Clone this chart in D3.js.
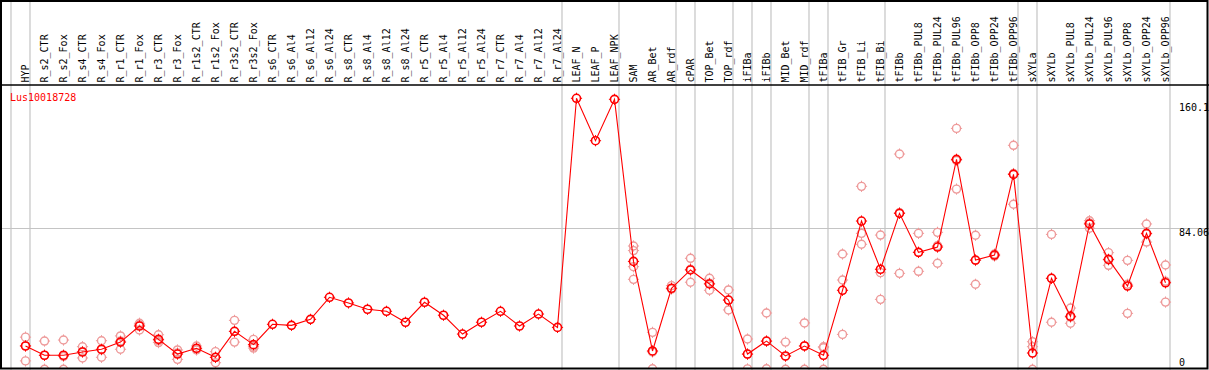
<!DOCTYPE html>
<html>
<head>
<meta charset="utf-8">
<script src="https://cdn.jsdelivr.net/npm/d3@7"></script>
<style>
  html, body { margin: 0; padding: 0; background: #fff; }
  svg { display: block; }
  text { font-family: "DejaVu Sans Mono", "Liberation Mono", monospace; font-size: 10px; }
</style>
</head>
<body>
<svg id="chart" width="1209" height="370"></svg>
<script>
const geneName = "Lus10018728";

const categories = [
  "HYP","R_s2_CTR","R_s2_Fox","R_s4_CTR","R_s4_Fox","R_r1_CTR","R_r1_Fox","R_r3_CTR","R_r3_Fox",
  "R_r1s2_CTR","R_r1s2_Fox","R_r3s2_CTR","R_r3s2_Fox","R_s6_CTR","R_s6_Al4","R_s6_Al12","R_s6_Al24",
  "R_s8_CTR","R_s8_Al4","R_s8_Al12","R_s8_Al24","R_r5_CTR","R_r5_Al4","R_r5_Al12","R_r5_Al24",
  "R_r7_CTR","R_r7_Al4","R_r7_Al12","R_r7_Al24","LEAF_N","LEAF_P","LEAF_NPK","SAM","AR_Bet","AR_rdf",
  "cPAR","TOP_Bet","TOP_rdf","iFIBa","iFIBb","MID_Bet","MID_rdf","tFIBa","tFIB_Gr","tFIB_Li","tFIB_Bi",
  "tFIBb","tFIBb_PUL8","tFIBb_PUL24","tFIBb_PUL96","tFIBb_OPP8","tFIBb_OPP24","tFIBb_OPP96",
  "sXYLa","sXYLb","sXYLb_PUL8","sXYLb_PUL24","sXYLb_PUL96","sXYLb_OPP8","sXYLb_OPP24","sXYLb_OPP96"
];

const meanValues = [
  15.2, 9.8, 9.8, 11.7, 13.3, 17.5, 26.9, 19.1, 10.5,
  13.9, 8.6, 23.8, 16.0, 27.9, 27.3, 30.8, 43.7,
  40.4, 36.7, 35.5, 29.1, 40.8, 33.2, 22.2, 29.1,
  35.5, 26.9, 33.9, 26.1, 160.1, 135.3, 159.5, 64.7, 12.3, 49.0,
  59.7, 51.5, 42.1, 10.5, 18.1, 9.4, 15.2, 9.8, 47.8, 88.3, 60.1,
  92.8, 70.0, 73.1, 124.4, 65.5, 68.4, 115.6,
  11.1, 54.8, 32.6, 86.6, 65.9, 50.3, 81.1, 52.2
];

const replicateValues = [
  [20.4, 15.4, 6.5], [18.1, 9.7, 1.6], [18.7, 9.1, 1.6], [14.8, 12.0, 8.2], [18.3, 13.0, 8.6],
  [21.1, 18.1, 13.3], [28.5, 27.6, 24.6], [21.8, 18.3, 17.2], [12.9, 11.2, 7.4],
  [15.2, 13.6, 12.9], [11.9, 8.5, 5.4], [30.2, 23.7, 17.5], [19.1, 15.0, 14.0],
  [], [], [], [], [], [], [], [], [], [], [], [], [], [], [], [],
  [], [], [],
  [73.7, 71.0, 61.6, 54.2], [23.2, 11.7, 1.9], [50.5, 48.5],
  [66.5, 60.1, 52.5], [54.8, 51.9, 47.8], [48.0, 42.0, 36.3], [19.3, 10.4, 1.8], [34.5, 17.9, 1.9],
  [17.5, 9.1, 1.6], [28.7, 15.3, 1.6], [14.8, 14.2, 1.6],
  [69.0, 53.8, 22.0], [108.6, 81.1, 74.7], [80.1, 58.1, 42.5],
  [127.5, 93.2, 57.7], [81.1, 70.0, 58.9], [81.7, 73.9, 63.6], [142.5, 123.7, 107.0],
  [80.0, 65.2, 51.3], [69.0, 67.8], [132.6, 116.1, 98.1],
  [17.7, 14.8, 1.6], [80.5, 54.8, 29.1], [37.4, 32.0, 28.5], [88.5, 87.2, 84.1],
  [69.8, 65.5, 62.4], [65.3, 51.3, 34.3], [86.6, 80.7, 76.0], [62.6, 53.1, 40.9]
];

// categories after which a grey separator line is drawn (-1 = before the first)
const groupBreaks = [-1, 0, 28, 31, 34, 35, 37, 38, 39, 41, 42, 45, 52, 53, 60];
const gridValues = [84.06];
const tickLabels = [
  { value: 160.1, text: "160.1" },
  { value: 84.06, text: "84.06" },
  { value: 0, text: "0" }
];

const W = 1209, H = 370;
const svg = d3.select("#chart");

const x = d3.scalePoint().domain(categories).range([25.5, 1165.5]);
const step = x.step();
const y = d3.scaleLinear().domain([0, 160.1]).range([372, 98.3]);

const headerY = 85;
const plotBottom = 368.5;

// clip region for the plot
svg.append("defs").append("clipPath").attr("id", "plotclip")
  .append("rect").attr("x", 1).attr("y", headerY).attr("width", 1206.5).attr("height", plotBottom - headerY);

// separators
const xAfter = i => (i < 0 ? x(categories[0]) - step : x(categories[i])) + 4.5;
svg.append("g").selectAll("line").data(groupBreaks).join("line")
  .attr("x1", d => xAfter(d)).attr("x2", d => xAfter(d))
  .attr("y1", 0).attr("y2", H)
  .attr("stroke", "#c4c4c4").attr("stroke-width", 1.2);

// horizontal grid
svg.append("g").selectAll("line").data(gridValues).join("line")
  .attr("x1", 0).attr("x2", W)
  .attr("y1", d => Math.round(y(d)) + 0.5).attr("y2", d => Math.round(y(d)) + 0.5)
  .attr("stroke", "#c4c4c4").attr("stroke-width", 1.2);

// header labels
svg.append("g").selectAll("text").data(categories).join("text")
  .attr("transform", d => `translate(${x(d) + 3.6},${82.5}) rotate(-90)`)
  .attr("fill", "#000")
  .text(d => d);

// gene name
svg.append("text").attr("x", 10).attr("y", 100.5).attr("fill", "#ff0000").text(geneName);

// tick labels
svg.append("g").selectAll("text").data(tickLabels).join("text")
  .attr("x", 1179)
  .attr("y", d => Math.max(110.7, Math.min(365.7, y(d.value) + 8)))
  .attr("fill", "#000")
  .text(d => d.text);

const plot = svg.append("g").attr("clip-path", "url(#plotclip)");

function marker(g, cx, cy, color, sw) {
  g.append("circle").attr("cx", cx).attr("cy", cy).attr("r", 4)
    .attr("fill", "none").attr("stroke", color).attr("stroke-width", sw);
  const t = [[0, -1], [0, 1], [-1, 0], [1, 0]];
  t.forEach(([dx, dy]) => {
    g.append("line")
      .attr("x1", cx + dx * 4).attr("y1", cy + dy * 4)
      .attr("x2", cx + dx * 5.6).attr("y2", cy + dy * 5.6)
      .attr("stroke", color).attr("stroke-width", 1);
  });
}

// replicates
const repG = plot.append("g");
replicateValues.forEach((reps, i) => {
  reps.forEach(v => marker(repG, x(categories[i]), y(v), "#ee9a9a", 1.4));
});

// mean line
const line = d3.line().x((d, i) => x(categories[i])).y(d => y(d));
plot.append("path").datum(meanValues).attr("d", line)
  .attr("fill", "none").attr("stroke", "#ff0000").attr("stroke-width", 1.1);

// mean markers
const meanG = plot.append("g");
meanValues.forEach((v, i) => marker(meanG, x(categories[i]), y(v), "#ff0000", 1.6));

// frame
svg.append("rect").attr("x", 1).attr("y", 1).attr("width", 1206.5).attr("height", 367.5)
  .attr("fill", "none").attr("stroke", "#000").attr("stroke-width", 2);
svg.append("line").attr("x1", 0).attr("x2", W).attr("y1", headerY).attr("y2", headerY)
  .attr("stroke", "#000").attr("stroke-width", 1.5);
</script>
</body>
</html>
